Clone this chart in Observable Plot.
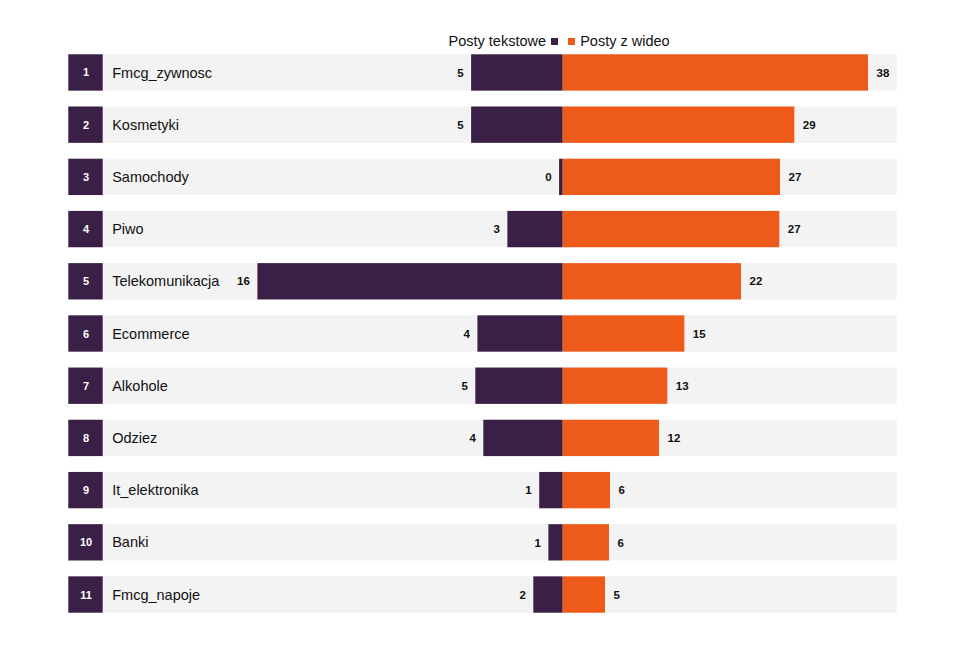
<!DOCTYPE html>
<html>
<head>
<meta charset="utf-8">
<script src="https://cdn.jsdelivr.net/npm/d3@7"></script>
<script src="https://cdn.jsdelivr.net/npm/@observablehq/plot@0.6"></script>
<style>
  html, body { margin: 0; padding: 0; background: #fff; }
  #wrap { position: relative; width: 965px; height: 666px; font-family: "Liberation Sans", Arial, sans-serif; }
  #legend { position: relative; height: 46px; font-size: 14.5px; color: #111; }
  .lg { position: absolute; top: 33px; line-height: 16px; white-space: nowrap; }
  .sw { display: inline-block; width: 7px; height: 7px; vertical-align: 1px; }
</style>
</head>
<body>
<div id="wrap">
  <div id="legend"></div>
  <div id="chart"></div>
</div>
<script>
const categories = ["Fmcg_zywnosc","Kosmetyki","Samochody","Piwo","Telekomunikacja","Ecommerce","Alkohole","Odziez","It_elektronika","Banki","Fmcg_napoje"];
const textPosts  = [4.80, 4.80, 0.19, 2.90, 16.0, 4.47, 4.58, 4.16, 1.23, 0.75, 1.54];
const videoPosts = [38.0, 28.83, 27.05, 26.96, 22.19, 15.14, 13.02, 11.99, 5.89, 5.76, 5.27];
const seriesNames = ["Posty tekstowe", "Posty z wideo"];
const colors = ["#3a2046", "#ee5a1a"];

const data = categories.map((c, i) => ({cat: c, rank: i + 1, text: textPosts[i], video: videoPosts[i]}));
const maxText = d3.max(textPosts), maxVideo = d3.max(videoPosts);

const W = 965, H = 620, mL = 68.3, mR = 68.3;
const xMin = -1.6194, xMax = 1.094;
const pxPerUnit = (W - mL - mR) / (xMax - xMin);
const boxW = 34.4;

// legend
const legend = document.getElementById("legend");
const zeroPx = mL + (0 - xMin) * pxPerUnit;
const l1 = document.createElement("span");
l1.className = "lg";
l1.style.right = (W - (zeroPx - 4.7)) + "px";
l1.innerHTML = `${seriesNames[0]}<span class="sw" style="background:${colors[0]};margin-left:5px"></span>`;
const l2 = document.createElement("span");
l2.className = "lg";
l2.style.left = (zeroPx + 5) + "px";
l2.innerHTML = `<span class="sw" style="background:${colors[1]};margin-right:5.5px"></span>${seriesNames[1]}`;
legend.append(l1, l2);

const chart = Plot.plot({
  width: W,
  height: H,
  marginLeft: mL,
  marginRight: mR,
  marginTop: 8.3,
  marginBottom: 53.3,
  style: {fontFamily: "'Liberation Sans', Arial, sans-serif", background: "transparent"},
  x: {domain: [xMin, xMax], axis: null},
  y: {domain: categories, paddingInner: 0.304, paddingOuter: 0, round: false, axis: null},
  marks: [
    Plot.barX(data, {x1: xMin, x2: xMax, y: "cat", fill: "#f3f3f3"}),
    Plot.barX(data, {x1: xMin, x2: xMin + boxW / pxPerUnit, y: "cat", fill: colors[0]}),
    Plot.barX(data, {x1: 0, x2: d => -d.text / maxText, y: "cat", fill: colors[0]}),
    Plot.barX(data, {x1: 0, x2: d => d.video / maxVideo, y: "cat", fill: colors[1]}),
    Plot.text(data, {x: xMin, y: "cat", text: d => String(d.rank), dx: boxW / 2, fill: "#fff", fontWeight: "bold", fontSize: 11}),
    Plot.text(data, {x: xMin, y: "cat", text: "cat", dx: boxW + 9, textAnchor: "start", fill: "#111", fontSize: 14.5}),
    Plot.text(data, {x: d => -d.text / maxText, y: "cat", text: d => String(Math.round(d.text)), dx: -8, textAnchor: "end", fill: "#111", fontWeight: "bold", fontSize: 11.5}),
    Plot.text(data, {x: d => d.video / maxVideo, y: "cat", text: d => String(Math.round(d.video)), dx: 8, textAnchor: "start", fill: "#111", fontWeight: "bold", fontSize: 11.5})
  ]
});
document.getElementById("chart").append(chart);
</script>
</body>
</html>
